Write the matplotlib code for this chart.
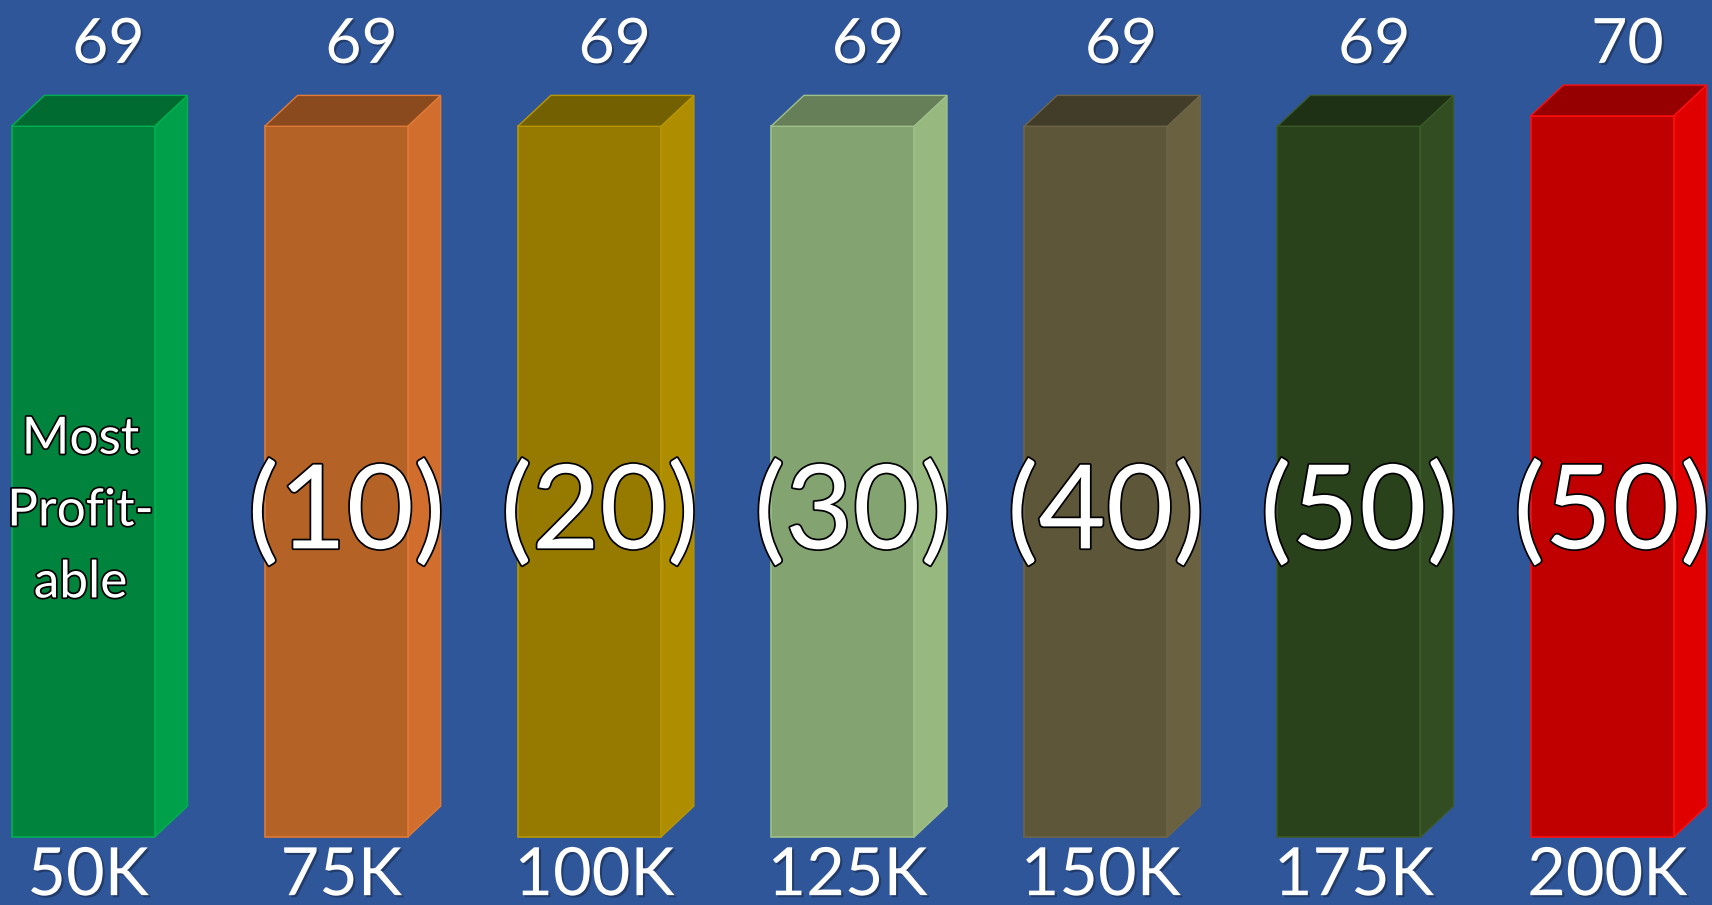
import matplotlib.pyplot as plt
import matplotlib.patheffects as pe
from matplotlib.patches import Polygon

# datos
cats = ['50K', '75K', '100K', '125K', '150K', '175K', '200K']
values = [69, 69, 69, 69, 69, 69, 70]
inner_labels = ['Most\nProfit-\nable', '(10)', '(20)', '(30)', '(40)', '(50)', '(50)']
front_colors = ['#00843D', '#B56226', '#967A00', '#83A370', '#5E5638', '#2A421C', '#C00000']
side_colors = ['#00A04A', '#D26E2D', '#AE8E00', '#97B97F', '#6A6140', '#324D21', '#E00000']
top_colors = ['#006B30', '#8B4A1E', '#736000', '#677F58', '#423D28', '#1F3115', '#960000']
edge_colors = ['#00B050', '#E07A35', '#B89600', '#9FC088', '#6E6548', '#3A5A28', '#FF1010']

bg = '#30569A'
width = 0.565
dx, dy = 0.13, 3.0

fig = plt.figure(figsize=(17.12, 9.05), dpi=100)
fig.patch.set_facecolor(bg)
ax = fig.add_axes([0, 0, 1, 1])
ax.set_facecolor(bg)
ax.set_xlim(-0.328, 6.434)
ax.set_ylim(-6.6, 81.26)
ax.axis('off')

x = list(range(len(cats)))
ax.bar(x, values, width=width, color=front_colors, edgecolor=edge_colors,
       linewidth=1.2, zorder=3)

for i, v in enumerate(values):
    l = x[i] - width / 2
    r = x[i] + width / 2
    side = Polygon([(r, 0), (r + dx, dy), (r + dx, v + dy), (r, v)],
                   closed=True, facecolor=side_colors[i], edgecolor=edge_colors[i],
                   linewidth=1.0, zorder=2)
    top = Polygon([(l, v), (l + dx, v + dy), (r + dx, v + dy), (r, v)],
                  closed=True, facecolor=top_colors[i], edgecolor=edge_colors[i],
                  linewidth=1.0, zorder=4)
    ax.add_patch(side)
    ax.add_patch(top)

shadow = [pe.SimplePatchShadow(offset=(1.5, -1.5), shadow_rgbFace='black', alpha=0.3), pe.Normal()]
outline = [pe.withStroke(linewidth=2.5, foreground='black')]

for i, v in enumerate(values):
    # valor arriba
    ax.text(x[i] + 0.1, 76.9, str(v), ha='center', va='center', color='white',
            fontsize=45, family='Lato', path_effects=shadow, zorder=5)
    # etiqueta abajo
    ax.text(x[i] + 0.02, -3.8, cats[i], ha='center', va='center', color='white',
            fontsize=48, family='Lato', path_effects=shadow, zorder=5)
    # texto dentro de la barra
    if i == 0:
        ax.text(x[i] - 0.01, 31.6, inner_labels[i], ha='center', va='center', color='white',
                fontsize=37, family='Lato', linespacing=1.7, path_effects=outline, zorder=6)
    else:
        ax.text(x[i] + 0.04, 31.3, inner_labels[i], ha='center', va='center', color='white',
                fontsize=84, family='Lato', path_effects=outline, zorder=6)

fig.savefig('out.png', dpi=100, facecolor=bg)
